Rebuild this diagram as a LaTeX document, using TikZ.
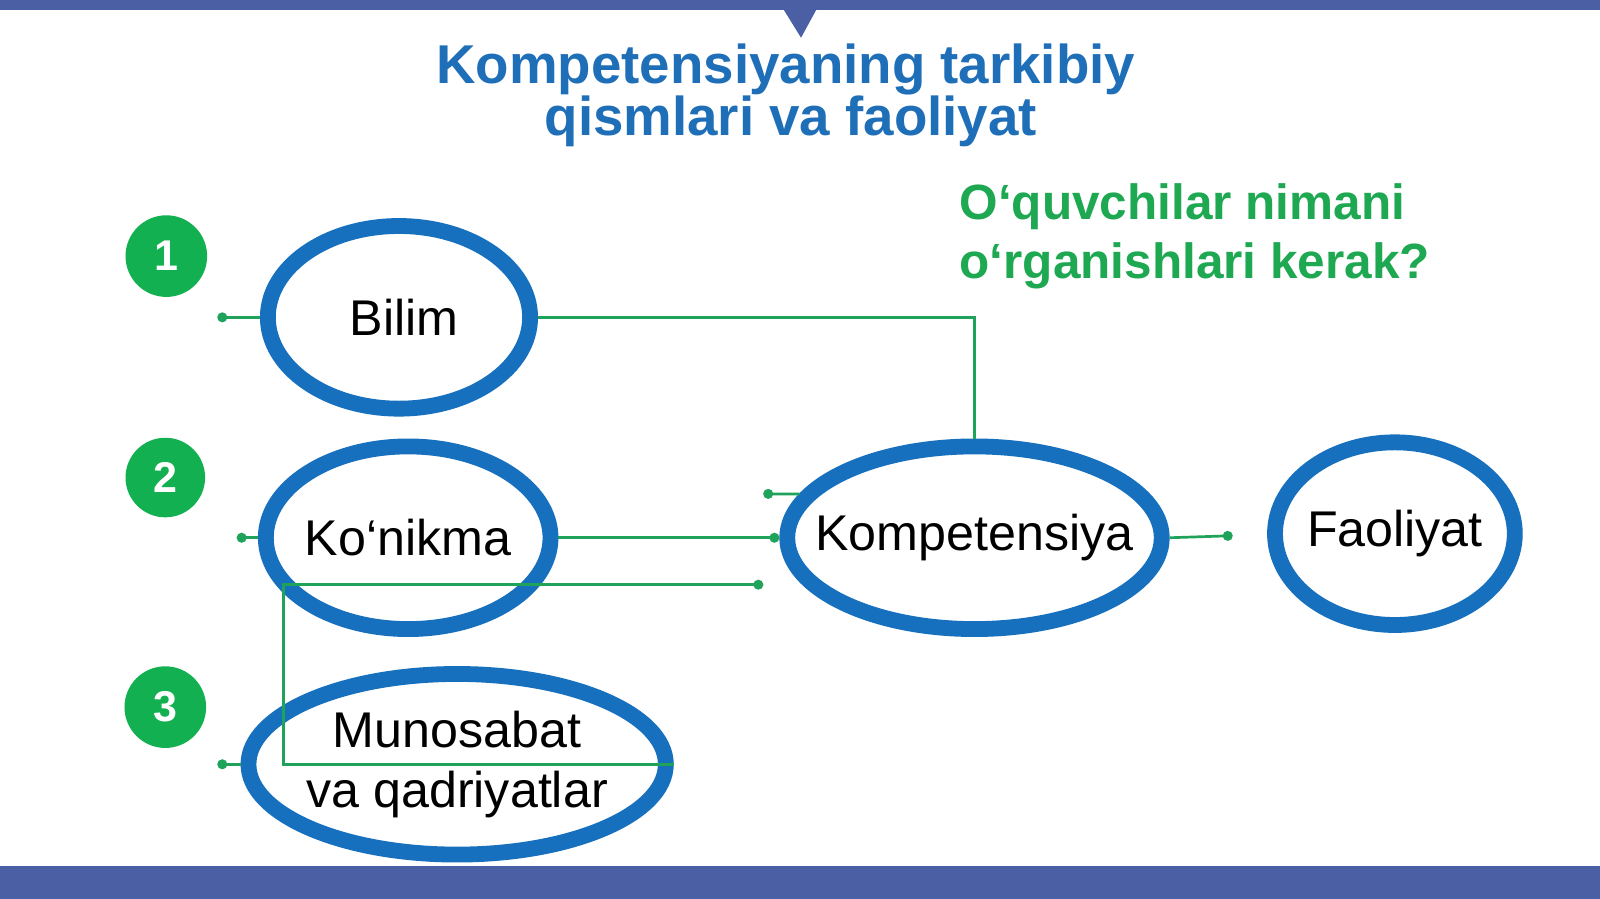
\documentclass[tikz,border=0pt]{standalone}
\usepackage{fontspec}
\setmainfont{Liberation Sans}
\usetikzlibrary{shapes.geometric, arrows.meta}
\definecolor{barblue}{HTML}{4B5FA5}
\definecolor{ringblue}{HTML}{1670BE}
\definecolor{titleblue}{HTML}{1F6FB8}
\definecolor{badgegreen}{HTML}{12B050}
\definecolor{textgreen}{HTML}{1DA851}
\definecolor{linkgreen}{HTML}{1FA35A}

\begin{document}
\begin{tikzpicture}[
  ring/.style={draw=ringblue, ellipse, line width=0.31cm, fill=white, inner xsep=-18pt, inner ysep=0pt, align=center, font=\fontsize{28}{33.5}\selectfont},
  badge/.style={fill=badgegreen, circle, inner sep=0pt, minimum size=1.6cm, text=white, font=\fontsize{24}{24}\selectfont\bfseries},
  link/.style={draw=linkgreen, line width=1.5pt},
  dotstart/.style={arrows={Circle[length=5.5pt]-}},
  dotend/.style={arrows={-Circle[length=5.5pt]}}
]
\useasboundingbox (0,0) rectangle (31.36,17.62);
\fill[white] (0,0) rectangle (31.36,17.62);
\fill[barblue] (0,17.42) rectangle (31.36,17.62);
\fill[barblue] (15.36,17.43) -- (16.0,17.43) -- (15.70,16.88) -- cycle;
\fill[barblue] (0,0) rectangle (31.36,0.64);

\node (title)[text=titleblue, align=center, inner sep=0pt, font=\fontsize{30.5}{29}\selectfont\bfseries] at (15.4,15.75) {Kompetensiyaning tarkibiy\\\hspace*{0.2cm}qismlari va faoliyat};
\node (question)[text=textgreen, align=left, inner sep=0pt, anchor=west, font=\fontsize{27.6}{33}\selectfont\bfseries] at (18.8,12.98) {O‘quvchilar nimani\\o‘rganishlari kerak?};

\node (n1)[badge] at (3.26,12.60) {1};
\node (n2)[badge, minimum size=1.56cm] at (3.24,8.26) {2};
\node (n3)[badge] at (3.24,3.76) {3};

\node (bilim)[ring, minimum width=5.14cm, minimum height=3.58cm] at (7.82,11.40) {\hspace*{0.2cm}Bilim};
\node (konikma)[ring, minimum width=5.58cm, minimum height=3.58cm] at (8.00,7.08) {Ko‘nikma};
\node (munosabat)[ring, minimum width=8.18cm, minimum height=3.54cm] at (8.96,2.64) {Munosabat\\va qadriyatlar};
\node (komp)[ring, minimum width=7.34cm, minimum height=3.58cm] at (19.10,7.08) {Kompetensiya};
\node (faoliyat)[ring, minimum width=4.70cm, minimum height=3.58cm] at (27.34,7.16) {Faoliyat};

\coordinate (bdot) at (4.26,11.40);
\coordinate (kdot) at (4.64,7.08);
\coordinate (mdot) at (4.26,2.64);
\coordinate (cdot) at (14.96,6.16);
\coordinate (corner) at (5.56,6.16);
\coordinate (udot) at (14.96,7.94);
\coordinate (fdot) at (24.16,7.12);

\draw[link, dotstart] (bdot) -- (bilim.west);
\draw[link] (bilim.east) -| (komp.north);
\draw[link, dotstart] (kdot) -- (konikma.west);
\draw[link, dotend] (konikma.east) -- (komp.west);
\draw[link, dotstart] (cdot) -- (corner) |- (munosabat.east);
\draw[link, dotstart] (mdot) -- (munosabat.west);
\draw[link, dotstart] (udot) -- (komp.166);
\draw[link, dotend] (komp.east) -- (fdot);
\end{tikzpicture}
\end{document}
